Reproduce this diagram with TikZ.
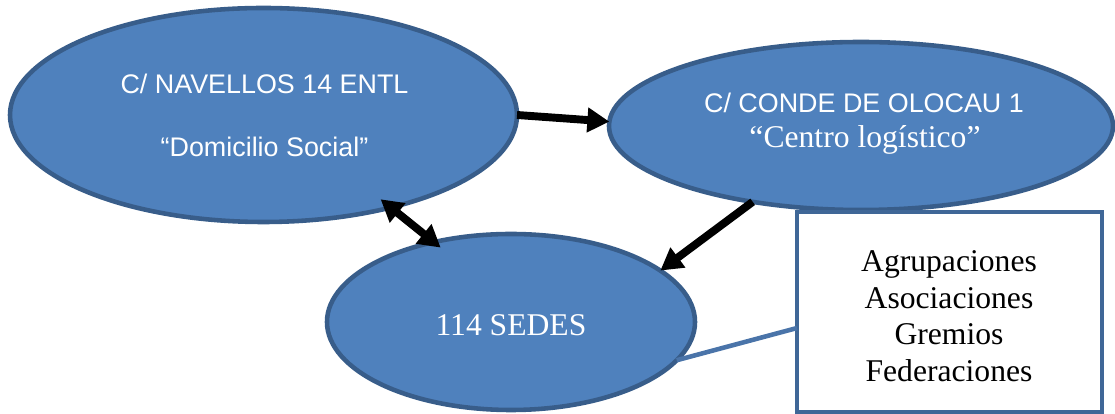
\documentclass[tikz,border=0pt]{standalone}
\usepackage{fontspec}
\setmainfont{Liberation Serif}
\newfontfamily\arialfont{Liberation Sans}
\usetikzlibrary{arrows.meta,shapes.geometric,calc}
\definecolor{efill}{HTML}{4F81BD}
\definecolor{eborder}{HTML}{385D8A}
\definecolor{boxborder}{HTML}{3F6797}
\definecolor{linkblue}{HTML}{4A74A9}
\begin{document}
\begin{tikzpicture}[x=0.2mm,y=-0.2mm,
  bubble/.style={ellipse, draw=eborder, fill=efill, line width=2.6pt, inner sep=0pt, outer sep=0pt},
  listbox/.style={rectangle, draw=boxborder, fill=white, line width=2.6pt, inner sep=0pt, outer sep=0pt, minimum width=61mm, minimum height=40mm},
  sanslabel/.style={font=\arialfont\fontsize{15.3}{18}\selectfont, text=white, inner sep=0pt, anchor=base},
  seriflabel/.style={font=\fontsize{18}{21}\selectfont, text=white, inner sep=0pt, anchor=base},
  listtext/.style={font=\fontsize{18}{20.8}\selectfont, text=black, inner sep=0pt, align=center},
  blackarrow/.style={line width=4.5pt, -{Triangle[length=12.5pt,width=13.5pt]}},
  dblarrow/.style={line width=4.5pt, {Triangle[length=12.5pt,width=13.5pt]}-{Triangle[length=12.5pt,width=13.5pt]}},
  linkline/.style={draw=linkblue, line width=2.6pt}
]
\useasboundingbox (0,0) rectangle (1115,414);

% ellipses
\node[bubble, minimum width=101.4mm, minimum height=42.8mm] (e1) at (263.5,115) {};
\node[bubble, minimum width=100.8mm, minimum height=33.6mm] (e2) at (861,126) {};
\node[bubble, minimum width=73.6mm, minimum height=35.2mm] (e3) at (511,322) {};

% labels
\node[sanslabel] (t1a) at (264.5,94) {C/ NAVELLOS 14 ENTL};
\node[sanslabel] (t1b) at (264.5,157) {“Domicilio Social”};
\node[sanslabel] (t2a) at (864,113) {C/ CONDE DE OLOCAU 1};
\node[seriflabel] (t2b) at (865,148) {“Centro logístico”};
\node[seriflabel] (t3) at (511,336) {114 SEDES};

% list box
\node[listbox] (box) at (949.5,312) {};
\node[listtext] (boxtext) at (949,316) {Agrupaciones\\Asociaciones\\Gremios\\Federaciones};

% connectors
\draw[blackarrow] (e1.east) -- (e2.179);
\draw[dblarrow, shorten <=-7.5pt, shorten >=-5pt] (e1.-36) -- (e3.134);
\draw[blackarrow] (e2.215) -- (e3.19.6);
\draw[linkline] (e3.-13) -- (box.-174);
\end{tikzpicture}
\end{document}
